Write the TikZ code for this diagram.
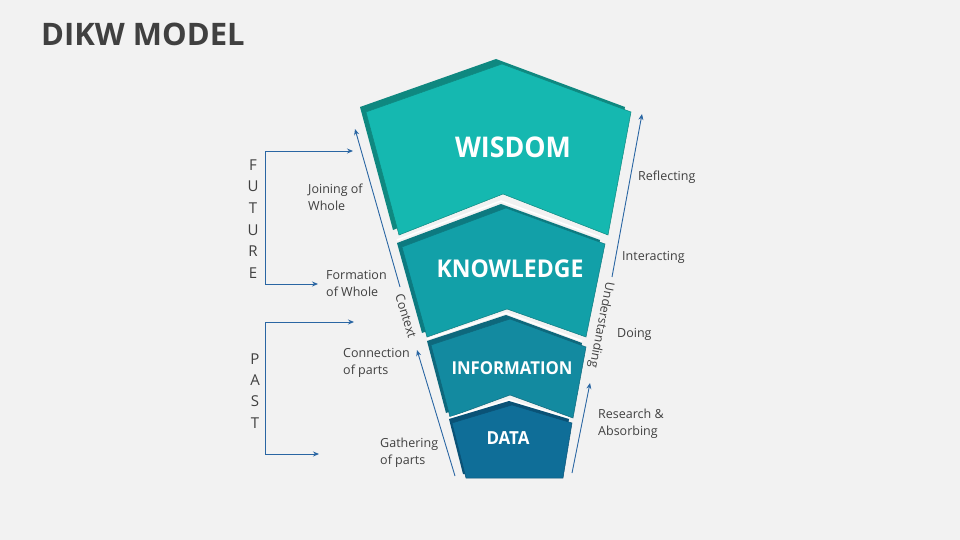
\documentclass[tikz,border=0pt]{standalone}
\usepackage{fontspec}
\setmainfont{Open Sans}
\newfontfamily\tierfont{Open Sans}[FakeStretch=0.94]
\usetikzlibrary{arrows.meta}
\definecolor{bg}{HTML}{F2F2F2}
\definecolor{txt}{HTML}{404040}
\definecolor{arr}{HTML}{2A66A3}
\definecolor{wisF}{HTML}{15B8B0}
\definecolor{wisD}{HTML}{0F8880}
\definecolor{knoF}{HTML}{12A0A8}
\definecolor{knoD}{HTML}{0D7A80}
\definecolor{infF}{HTML}{138AA0}
\definecolor{infD}{HTML}{0E687C}
\definecolor{datF}{HTML}{0F6E98}
\definecolor{datD}{HTML}{0A5276}
\tikzset{
  lbl/.style={anchor=west, align=left, inner sep=0pt, text=txt, font=\fontsize{12.5}{17}\selectfont},
  vlet/.style={inner sep=0pt, text=txt, font=\fontsize{15}{18}\selectfont},
  tier/.style={text=white, font=\tierfont\bfseries\fontsize{#1}{#1}\selectfont, inner sep=0pt},
  flow/.style={arr, line width=0.9pt, -{Stealth[length=6pt,width=5pt]}},
  brk/.style={arr, line width=0.9pt, {Stealth[length=6pt,width=5pt]}-{Stealth[length=6pt,width=5pt]}},
  hl/.style={white, line width=1.6pt, line join=round}
}
\begin{document}
\begin{tikzpicture}[x=1pt,y=-1pt]
\useasboundingbox (0,0) rectangle (960,540);
\fill[bg] (0,0) rectangle (960,540);

% title
\node[anchor=base west, inner sep=0pt, text=txt, font=\bfseries\fontsize{31}{31}\selectfont] (title) at (41,46) {DIKW MODEL};

% WISDOM tier
\fill[wisD, shift={(-6,-5)}] (366,112) -- (502,64) -- (631,112) -- (608,235) -- (503,194) -- (399,235) -- cycle;
\filldraw[fill=wisF, draw=wisD, line width=0.5pt] (366,112) -- (502,64) -- (631,112) -- (608,235) -- (503,194) -- (399,235) -- cycle;
\node[tier=28.5] (wisdom) at (513,147) {WISDOM};

% KNOWLEDGE tier
\draw[hl, shift={(-5,-7)}] (402,247) -- (506,208) -- (605,244);
\fill[knoD, shift={(-5,-4)}] (402,247) -- (506,208) -- (605,244) -- (586,337) -- (507,309) -- (427,337) -- cycle;
\filldraw[fill=knoF, draw=knoD, line width=0.5pt] (402,247) -- (506,208) -- (605,244) -- (586,337) -- (507,309) -- (427,337) -- cycle;
\node[tier=24.5] (knowledge) at (510,269) {KNOWLEDGE};

% INFORMATION tier
\draw[hl, shift={(-4,-6)}] (431,345) -- (510,319) -- (586,347);
\fill[infD, shift={(-4,-4)}] (431,345) -- (510,319) -- (586,347) -- (573,418) -- (510,395) -- (450,417) -- cycle;
\filldraw[fill=infF, draw=infD, line width=0.5pt] (431,345) -- (510,319) -- (586,347) -- (573,418) -- (510,395) -- (450,417) -- cycle;
\node[tier=17.8] (information) at (512,368) {INFORMATION};

% DATA tier
\draw[hl, shift={(-3,-5)}] (452,423) -- (512,405) -- (572,423);
\fill[datD, shift={(-3,-4)}] (452,423) -- (512,405) -- (572,423) -- (563,478) -- (466,478) -- cycle;
\filldraw[fill=datF, draw=datD, line width=0.5pt] (452,423) -- (512,405) -- (572,423) -- (563,478) -- (466,478) -- cycle;
\node[tier=18] (data) at (508,438) {DATA};

% flow arrows
\coordinate (c1t) at (400,287); \coordinate (c1h) at (355,129);
\coordinate (c2t) at (455,476); \coordinate (c2h) at (417,350);
\coordinate (u1t) at (612,277); \coordinate (u1h) at (642,114);
\coordinate (u2t) at (572,473); \coordinate (u2h) at (590,383);
\draw[flow] (c1t) -- (c1h);
\draw[flow] (c2t) -- (c2h);
\draw[flow] (u1t) -- (u1h);
\draw[flow] (u2t) -- (u2h);

\node[text=txt, inner sep=0pt, rotate=-73, font=\fontsize{12.5}{15}\selectfont] (context) at (406,316) {Context};
\node[text=txt, inner sep=0pt, rotate=-101, font=\fontsize{12.5}{15}\selectfont] (understanding) at (601,325) {Understanding};

% brackets
\coordinate (fa) at (318,284); \coordinate (fb) at (265,284);
\coordinate (fc) at (265,151); \coordinate (fd) at (353,151);
\draw[brk, line join=miter] (fa) -- (fb) -- (fc) -- (fd);
\coordinate (pa) at (319,454); \coordinate (pb) at (265,454);
\coordinate (pc) at (265,322); \coordinate (pd) at (354,322);
\draw[brk, line join=miter] (pa) -- (pb) -- (pc) -- (pd);

% FUTURE / PAST letters
\node[vlet] (f1) at (253,165) {F};
\node[vlet] (f2) at (253,186.6) {U};
\node[vlet] (f3) at (253,208.2) {T};
\node[vlet] (f4) at (253,229.8) {U};
\node[vlet] (f5) at (253,251.4) {R};
\node[vlet] (f6) at (253,273) {E};
\node[vlet] (p1) at (255,359) {P};
\node[vlet] (p2) at (255,380.3) {A};
\node[vlet] (p3) at (255,401.6) {S};
\node[vlet] (p4) at (255,423) {T};

% labels
\node[lbl] (joining) at (308,197) {Joining of\\Whole};
\node[lbl] (formation) at (326,283.5) {Formation\\of Whole};
\node[lbl] (connection) at (343,362.5) {Connection\\of parts};
\node[lbl] (gathering) at (380,452.5) {Gathering\\of parts};
\node[lbl] (reflecting) at (638,177) {Reflecting};
\node[lbl] (interacting) at (622,257) {Interacting};
\node[lbl] (doing) at (617,334) {Doing};
\node[lbl] (research) at (598,423.5) {Research \&\\Absorbing};
\end{tikzpicture}
\end{document}
